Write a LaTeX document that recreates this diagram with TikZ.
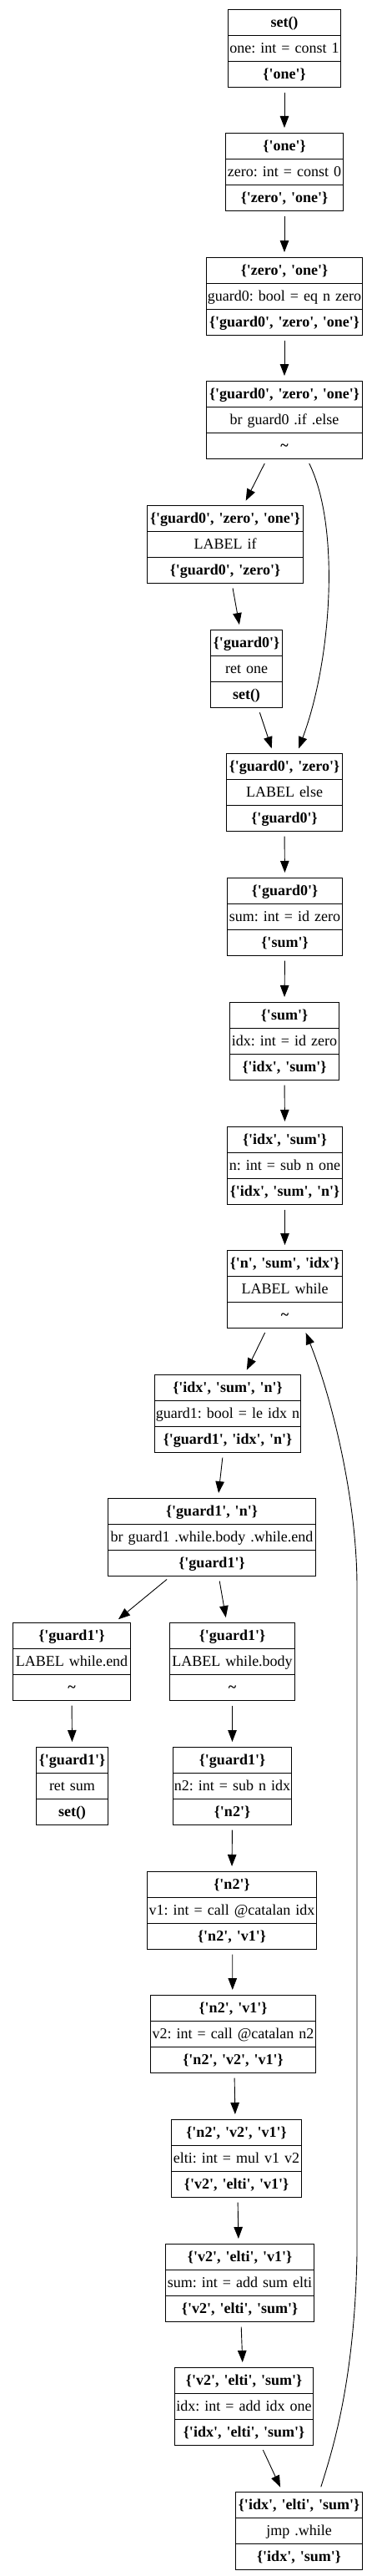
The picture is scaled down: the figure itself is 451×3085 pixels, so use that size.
\documentclass[tikz,border=0pt]{standalone}
\usepackage{fontspec}
\setmainfont{Liberation Serif}
\usetikzlibrary{shapes.multipart,arrows.meta}
\frenchspacing
\newcommand{\rs}{\rule[-9.5pt]{0pt}{30pt}}
\newcommand{\q}{\textquotesingle}
\newcommand{\tl}{\textasciitilde}
\newcommand{\rw}[1]{\makebox[\linewidth][c]{#1\rs}}
\newcommand{\blkt}[3]{\rw{\textbf{#1}}\nodepart{two}\rw{#2}\nodepart{three}\rw{\textbf{#3}}}
\tikzset{
  blk/.style={draw=black, line width=0.9pt, rectangle split, rectangle split parts=3,
    inner xsep=0pt, inner ysep=0pt, align=center, anchor=north,
    font=\fontsize{18}{21.6}\selectfont},
  edge/.style={line width=0.9pt, -{Triangle[length=14pt,width=10.5pt]},
    shorten <=6pt, shorten >=6pt}
}
\begin{document}
\begin{tikzpicture}[x=1pt,y=1pt]
\useasboundingbox (0,0) rectangle (451,-3085);
\node[blk, text width=135pt] (n1) at (341,-11) {\blkt{set()}{one: int = const 1}{\{\q one\q\}}};
\node[blk, text width=141pt] (n2) at (341,-159) {\blkt{\{\q one\q\}}{zero: int = const 0}{\{\q zero\q, \q one\q\}}};
\node[blk, text width=187pt] (n3) at (341,-308) {\blkt{\{\q zero\q, \q one\q\}}{guard0: bool = eq n zero}{\{\q guard0\q, \q zero\q, \q one\q\}}};
\node[blk, text width=187pt] (n4) at (341,-456) {\blkt{\{\q guard0\q, \q zero\q, \q one\q\}}{br guard0 .if .else}{\tl}};
\node[blk, text width=187pt] (n5) at (270,-605) {\blkt{\{\q guard0\q, \q zero\q, \q one\q\}}{LABEL if}{\{\q guard0\q, \q zero\q\}}};
\node[blk, text width=86pt] (n6) at (295.5,-754) {\blkt{\{\q guard0\q\}}{ret one}{set()}};
\node[blk, text width=139pt] (n7) at (341,-902) {\blkt{\{\q guard0\q, \q zero\q\}}{LABEL else}{\{\q guard0\q\}}};
\node[blk, text width=138pt] (n8) at (341.5,-1051) {\blkt{\{\q guard0\q\}}{sum: int = id zero}{\{\q sum\q\}}};
\node[blk, text width=131pt] (n9) at (341,-1200) {\blkt{\{\q sum\q\}}{idx: int = id zero}{\{\q idx\q, \q sum\q\}}};
\node[blk, text width=138pt] (n10) at (341.5,-1349) {\blkt{\{\q idx\q, \q sum\q\}}{n: int = sub n one}{\{\q idx\q, \q sum\q, \q n\q\}}};
\node[blk, text width=138pt] (n11) at (341.5,-1497) {\blkt{\{\q n\q, \q sum\q, \q idx\q\}}{LABEL while}{\tl}};
\node[blk, text width=175pt] (n12) at (273,-1646) {\blkt{\{\q idx\q, \q sum\q, \q n\q\}}{guard1: bool = le idx n}{\{\q guard1\q, \q idx\q, \q n\q\}}};
\node[blk, text width=249pt] (n13) at (254,-1794) {\blkt{\{\q guard1\q, \q n\q\}}{br guard1 .while.body .while.end}{\{\q guard1\q\}}};
\node[blk, text width=141pt] (n14) at (86,-1943) {\blkt{\{\q guard1\q\}}{LABEL while.end}{\tl}};
\node[blk, text width=150pt] (n15) at (278.5,-1943) {\blkt{\{\q guard1\q\}}{LABEL while.body}{\tl}};
\node[blk, text width=86pt] (n16) at (86.5,-2092) {\blkt{\{\q guard1\q\}}{ret sum}{set()}};
\node[blk, text width=142pt] (n17) at (278.5,-2092) {\blkt{\{\q guard1\q\}}{n2: int = sub n idx}{\{\q n2\q\}}};
\node[blk, text width=203pt] (n18) at (278,-2241) {\blkt{\{\q n2\q\}}{v1: int = call @catalan idx}{\{\q n2\q, \q v1\q\}}};
\node[blk, text width=198pt] (n19) at (279.5,-2389) {\blkt{\{\q n2\q, \q v1\q\}}{v2: int = call @catalan n2}{\{\q n2\q, \q v2\q, \q v1\q\}}};
\node[blk, text width=156pt] (n20) at (283.5,-2538) {\blkt{\{\q n2\q, \q v2\q, \q v1\q\}}{elti: int = mul v1 v2}{\{\q v2\q, \q elti\q, \q v1\q\}}};
\node[blk, text width=178pt] (n21) at (287.5,-2687) {\blkt{\{\q v2\q, \q elti\q, \q v1\q\}}{sum: int = add sum elti}{\{\q v2\q, \q elti\q, \q sum\q\}}};
\node[blk, text width=166pt] (n22) at (292.5,-2835) {\blkt{\{\q v2\q, \q elti\q, \q sum\q\}}{idx: int = add idx one}{\{\q idx\q, \q elti\q, \q sum\q\}}};
\node[blk, text width=152pt] (n23) at (358.5,-2984) {\blkt{\{\q idx\q, \q elti\q, \q sum\q\}}{jmp .while}{\{\q idx\q, \q sum\q\}}};
% edges
\draw[edge] (n1.south) -- (n2.north);
\draw[edge] (n2.south) -- (n3.north);
\draw[edge] (n3.south) -- (n4.north);
\draw[edge] ([xshift=-21pt]n4.south) -- ([xshift=22pt]n5.north);
\draw[edge] ([xshift=27pt]n4.south) .. controls (408,-630) and (398,-790) .. ([xshift=15pt]n7.north);
\draw[edge] ([xshift=8pt]n5.south) -- ([xshift=-7.5pt]n6.north);
\draw[edge] ([xshift=14pt]n6.south) -- ([xshift=-13.4pt]n7.north);
\draw[edge] (n7.south) -- (n8.north);
\draw[edge] (n8.south) -- (n9.north);
\draw[edge] (n9.south) -- (n10.north);
\draw[edge] (n10.south) -- (n11.north);
\draw[edge] ([xshift=-21.2pt]n11.south) -- ([xshift=20.2pt]n12.north);
\draw[edge] ([xshift=-5.5pt]n12.south) -- ([xshift=7.4pt]n13.north);
\draw[edge] ([xshift=-49.3pt]n13.south) -- ([xshift=51.3pt]n14.north);
\draw[edge] ([xshift=8.2pt]n13.south) -- ([xshift=-6.7pt]n15.north);
\draw[edge] (n14.south) -- (n16.north);
\draw[edge] (n15.south) -- (n17.north);
\draw[edge] (n17.south) -- (n18.north);
\draw[edge] ([xshift=0.7pt]n18.south) -- ([xshift=-0.7pt]n19.north);
\draw[edge] ([xshift=1.5pt]n19.south) -- ([xshift=-1.5pt]n20.north);
\draw[edge] ([xshift=1.5pt]n20.south) -- ([xshift=-1.5pt]n21.north);
\draw[edge] ([xshift=1.5pt]n21.south) -- ([xshift=-1.5pt]n22.north);
\draw[edge] ([xshift=20.3pt]n22.south) -- ([xshift=-19.9pt]n23.north);
\draw[edge] ([xshift=24.5pt]n23.north) .. controls (400,-2930) and (425,-2850) .. (428,-2700)
  -- (428,-1900) .. controls (428,-1800) and (400,-1680) .. ([xshift=23pt]n11.south);
\end{tikzpicture}
\end{document}
